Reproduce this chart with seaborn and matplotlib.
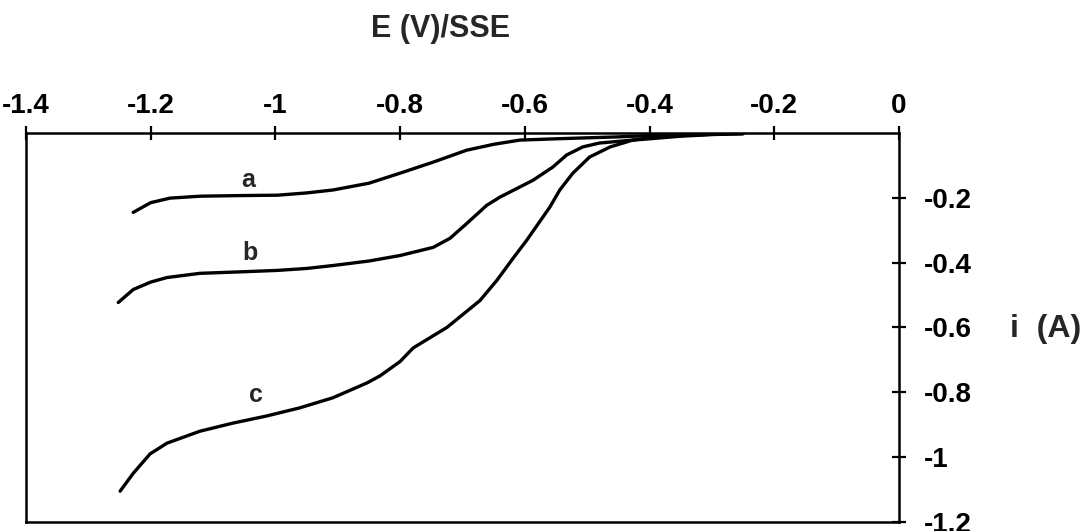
"""
Curvas de polarización catódica a, b, c — E (V)/SSE vs i (A).
Ejes estilo Excel: eje X arriba, eje Y a la derecha.
"""
import numpy as np
import pandas as pd
import matplotlib
matplotlib.use("Agg")
import matplotlib.pyplot as plt
import seaborn as sns

# ===== datos =====
E_a = [-1.228, -1.20, -1.169, -1.12, -1.05, -0.997, -0.95, -0.908, -0.85, -0.80,
       -0.747, -0.693, -0.65, -0.608, -0.55, -0.50, -0.45, -0.40, -0.35, -0.30, -0.25]
i_a = [-0.245, -0.215, -0.201, -0.195, -0.193, -0.192, -0.185, -0.176, -0.155, -0.124,
       -0.090, -0.053, -0.035, -0.022, -0.018, -0.015, -0.012, -0.008, -0.005, -0.003, -0.002]

E_b = [-1.252, -1.228, -1.20, -1.174, -1.121, -1.05, -0.997, -0.95, -0.908, -0.85,
       -0.80, -0.747, -0.72, -0.693, -0.661, -0.64, -0.587, -0.555, -0.533, -0.507,
       -0.48, -0.427, -0.40, -0.35, -0.30, -0.25]
i_b = [-0.523, -0.483, -0.460, -0.446, -0.433, -0.428, -0.424, -0.418, -0.409, -0.395,
       -0.378, -0.353, -0.325, -0.279, -0.223, -0.198, -0.146, -0.105, -0.068, -0.043,
       -0.031, -0.022, -0.018, -0.010, -0.005, -0.002]

E_c = [-1.249, -1.228, -1.201, -1.174, -1.121, -1.068, -1.014, -0.961, -0.908, -0.853,
       -0.832, -0.80, -0.779, -0.725, -0.672, -0.645, -0.619, -0.597, -0.56, -0.544,
       -0.523, -0.496, -0.463, -0.427, -0.40, -0.35, -0.30, -0.25]
i_c = [-1.105, -1.050, -0.990, -0.957, -0.920, -0.895, -0.873, -0.848, -0.817, -0.771,
       -0.749, -0.705, -0.663, -0.600, -0.517, -0.455, -0.387, -0.331, -0.229, -0.176,
       -0.124, -0.074, -0.043, -0.022, -0.015, -0.008, -0.004, -0.002]

X_TICKS = [-1.4, -1.2, -1.0, -0.8, -0.6, -0.4, -0.2, 0.0]
X_LABELS = ["-1.4", "-1.2", "-1", "-0.8", "-0.6", "-0.4", "-0.2", "0"]
Y_TICKS = [-0.2, -0.4, -0.6, -0.8, -1.0, -1.2]
Y_LABELS = ["-0.2", "-0.4", "-0.6", "-0.8", "-1", "-1.2"]

# etiquetas de curva (posición en datos)
CURVE_LABELS = ["a", "b", "c"]
LABEL_E = [-1.044, -1.041, -1.031]
LABEL_I = [-0.145, -0.369, -0.808]

df = pd.concat([
    pd.DataFrame({"E": E_a, "i": i_a, "curva": "a"}),
    pd.DataFrame({"E": E_b, "i": i_b, "curva": "b"}),
    pd.DataFrame({"E": E_c, "i": i_c, "curva": "c"}),
])

sns.set_style("white")
plt.rcParams["font.family"] = ["Liberation Sans", "DejaVu Sans"]
plt.rcParams["font.weight"] = "bold"

fig = plt.figure(figsize=(10.86, 5.31), dpi=100)
ax = fig.add_axes([0.0239, 0.017, 0.8039, 0.7326])

sns.lineplot(data=df, x="E", y="i", hue="curva", palette=["black"] * 3,
             estimator=None, sort=False, linewidth=2.4, legend=False, ax=ax)

for lab, xe, yi in zip(CURVE_LABELS, LABEL_E, LABEL_I):
    ax.text(xe, yi, lab, fontsize=18, fontweight="bold", ha="center", va="center")

ax.set_xlim(-1.4, 0)
ax.set_ylim(-1.2, 0)
ax.set_xticks(X_TICKS)
ax.set_xticklabels(X_LABELS)
ax.set_yticks(Y_TICKS)
ax.set_yticklabels(Y_LABELS)
ax.xaxis.tick_top()
ax.yaxis.tick_right()
ax.tick_params(axis="both", direction="inout", length=10, width=1.6,
               labelsize=20, color="black", labelcolor="black")
ax.tick_params(axis="x", pad=5)
ax.tick_params(axis="y", pad=13)
for lbl in ax.get_xticklabels() + ax.get_yticklabels():
    lbl.set_fontweight("bold")
ax.set_xlabel(""); ax.set_ylabel("")
for sp in ax.spines.values():
    sp.set_visible(True); sp.set_color("black"); sp.set_linewidth(1.8)

fig.text(441 / 1086, 1 - 29 / 531, "E (V)/SSE", fontsize=22, fontweight="bold",
         ha="center", va="center")
fig.text(1010 / 1086, 1 - 329 / 531, "i  (A)", fontsize=23, fontweight="bold",
         ha="left", va="center")

fig.savefig("out.png", dpi=100)
plt.close(fig)
